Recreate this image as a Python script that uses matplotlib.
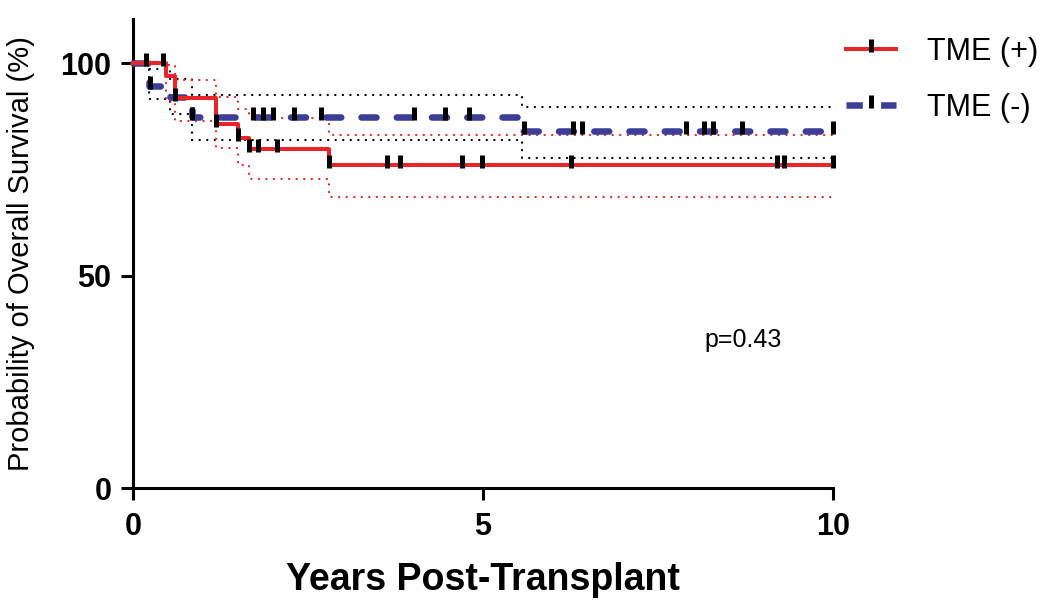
import matplotlib
matplotlib.use("Agg")
import matplotlib.pyplot as plt
from matplotlib.lines import Line2D
from matplotlib.path import Path
import numpy as np

plt.rcParams['font.family'] = ['Liberation Sans', 'DejaVu Sans']

# Kaplan-Meier steps (years, % surviving)
red_t = [0, 0.47, 0.60, 1.18, 1.50, 1.65, 2.80, 10]
red_s = [100, 96.9, 91.7, 85.8, 82.5, 79.9, 76.0, 76.0]
red_hi = [100, 99.6, 96.0, 92.0, 89.3, 87.0, 83.2, 83.2]
red_lo = [100, 91.0, 86.5, 80.0, 76.0, 72.7, 68.5, 68.5]
red_cens = [0.43, 0.60, 1.18, 1.50, 1.66, 1.78, 2.06, 2.80, 3.63, 3.81,
            4.70, 4.98, 6.26, 9.20, 9.30, 10.0]

blue_t = [0, 0.23, 0.53, 0.84, 5.55, 10]
blue_s = [100, 94.7, 92.1, 87.3, 84.1, 84.1]
blue_hi = [100, 98.6, 96.2, 92.5, 89.7, 89.7]
blue_lo = [100, 91.5, 88.0, 82.0, 77.6, 77.6]
blue_cens = [0.18, 0.24, 0.84, 1.72, 1.85, 2.00, 2.30, 2.69, 4.02, 4.45,
             4.80, 5.58, 6.28, 6.41, 7.90, 8.16, 8.28, 8.70, 10.0]

labels = ["TME (+)", "TME (-)"]
p_text = "p=0.43"

RED = '#e8262a'
BLUE = '#3b3d96'
DOTS = (0, (0.1, 3.3))


def step_value(times, surv, at):
    idx = np.searchsorted(times, at, side='right') - 1
    return np.array(surv)[idx]


# censor tick that sits mostly above the curve
tick = Path([(0, -0.25), (0, 1.0)], [Path.MOVETO, Path.LINETO])

fig = plt.figure(figsize=(10.5, 6.02), dpi=100)
ax = fig.add_axes([133/1050, 114/602, 700/1050, 469/602])

# confidence bands
for t, lim, col in [(blue_t, blue_hi, 'black'), (blue_t, blue_lo, 'black'),
                    (red_t, red_hi, RED), (red_t, red_lo, RED)]:
    ax.step(t, lim, where='post', color=col, lw=1.6, linestyle=DOTS,
            dash_capstyle='round', clip_on=False, zorder=2)

# survival curves
ax.step(blue_t, blue_s, where='post', color=BLUE, lw=4.7,
        linestyle=(0, (2.3, 3.1)), dash_capstyle='round', clip_on=False, zorder=3)
ax.step(red_t, red_s, where='post', color=RED, lw=2.9, clip_on=False, zorder=4)

# censor marks
ax.plot(blue_cens, step_value(blue_t, blue_s, blue_cens), linestyle='None',
        marker=tick, markersize=15, markeredgewidth=3.6, color='black',
        clip_on=False, zorder=5)
ax.plot(red_cens, step_value(red_t, red_s, red_cens), linestyle='None',
        marker=tick, markersize=15, markeredgewidth=3.6, color='black',
        clip_on=False, zorder=5)

ax.set_xlim(0, 10)
ax.set_ylim(0, 110.4)
ax.set_xticks([0, 5, 10])
ax.set_yticks([0, 50, 100])
ax.spines['top'].set_visible(False)
ax.spines['right'].set_visible(False)
for s in ['left', 'bottom']:
    ax.spines[s].set_linewidth(2.2)
ax.tick_params(width=2.2, length=8.5, labelsize=22)
ax.tick_params(axis='x', pad=9)
ax.tick_params(axis='y', pad=7)
for lab in ax.get_xticklabels() + ax.get_yticklabels():
    lab.set_fontweight('bold')

ax.set_xlabel('Years Post-Transplant', fontsize=27, fontweight='bold', labelpad=14)
ax.set_ylabel('Probability of Overall Survival (%)', fontsize=21, labelpad=18)

ax.text(8.17, 34.8, p_text, fontsize=18, va='center')

handles = [
    Line2D([], [], color=RED, lw=2.9, marker=tick, markersize=15,
           markeredgewidth=3.6, markeredgecolor='black'),
    Line2D([], [], color=BLUE, lw=4.7, linestyle=(0, (2.5, 2.8)),
           marker=tick, markersize=15, markeredgewidth=3.6,
           markeredgecolor='black'),
]
ax.legend(handles, labels, loc='upper left', bbox_to_anchor=(846/1050, 1 - 37/602),
          bbox_transform=fig.transFigure, frameon=False, fontsize=22,
          handlelength=1.65, handletextpad=1.0, labelspacing=0.85,
          borderpad=0, borderaxespad=0, numpoints=1)

fig.savefig('out.png', dpi=100)
